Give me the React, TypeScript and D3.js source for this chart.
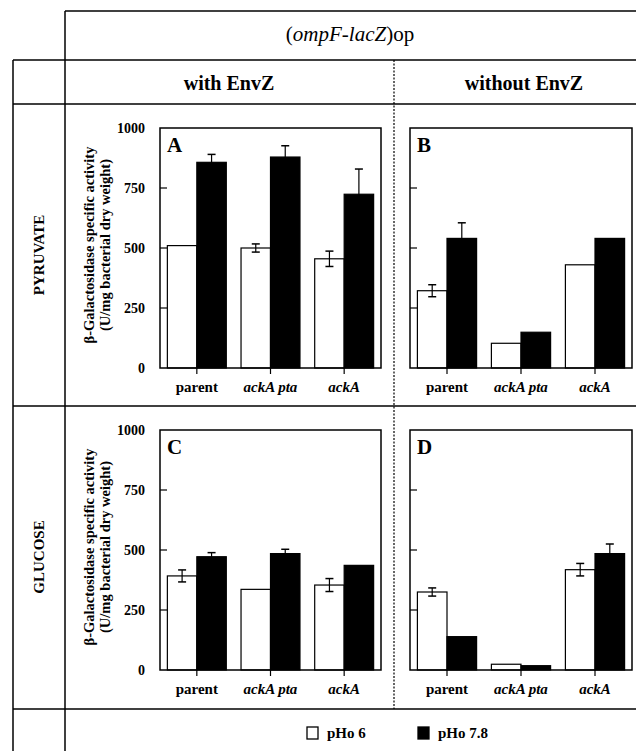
import { useEffect, useRef } from 'react';
import * as d3 from 'd3';

// strains on the x axis
const strains = ["parent", "ackA pta", "ackA"];
const yTicks = [0, 250, 500, 750, 1000];

// pyruvate, with EnvZ (panel A)
const pyrWith_pH6 = [510, 500, 455];
const pyrWith_pH6_err = [0, 17, 32];
const pyrWith_pH78 = [857, 879, 724];
const pyrWith_pH78_err = [33, 47, 105];

// pyruvate, without EnvZ (panel B)
const pyrWithout_pH6 = [322, 103, 430];
const pyrWithout_pH6_err = [25, 0, 0];
const pyrWithout_pH78 = [540, 149, 540];
const pyrWithout_pH78_err = [65, 0, 0];

// glucose, with EnvZ (panel C)
const gluWith_pH6 = [392, 336, 354];
const gluWith_pH6_err = [25, 0, 27];
const gluWith_pH78 = [472, 485, 436];
const gluWith_pH78_err = [17, 18, 0];

// glucose, without EnvZ (panel D)
const gluWithout_pH6 = [325, 24, 418];
const gluWithout_pH6_err = [17, 0, 26];
const gluWithout_pH78 = [139, 18, 485];
const gluWithout_pH78_err = [0, 0, 40];

const FONT = "Liberation Serif, DejaVu Serif, serif";

export default function App() {
    const ref = useRef(null);

    useEffect(() => {
        const svg = d3.select(ref.current);
        svg.selectAll('*').remove();

        const W = 636, H = 751;
        const line = (x1, y1, x2, y2, dash) => {
            const l = svg.append('line')
                .attr('x1', x1).attr('y1', y1).attr('x2', x2).attr('y2', y2)
                .attr('stroke', 'black').attr('stroke-width', 1.5);
            if (dash) l.attr('stroke-dasharray', dash).attr('stroke-width', 1.2);
        };

        // table grid
        line(65, 11, W, 11);
        line(65, 11, 65, H);
        line(13, 60, 13, H);
        line(13, 60, W, 60);
        line(13, 104, W, 104);
        line(13, 406, W, 406);
        line(13, 709, W, 709);
        line(394, 60, 394, 709, '2,1.5');

        const txt = (sel, size, bold) => sel
            .attr('font-family', FONT)
            .attr('font-size', size)
            .attr('font-weight', bold ? 'bold' : 'normal');

        // header text
        const header = txt(svg.append('text'), 21, false)
            .attr('x', 350).attr('y', 41)
            .attr('text-anchor', 'middle');
        header.append('tspan').text('(');
        header.append('tspan').attr('font-style', 'italic').text('ompF-lacZ');
        header.append('tspan').text(')op');

        txt(svg.append('text'), 20, true).attr('x', 229).attr('y', 90)
            .attr('text-anchor', 'middle')
            .text('with EnvZ');
        txt(svg.append('text'), 20, true).attr('x', 524).attr('y', 90)
            .attr('text-anchor', 'middle')
            .text('without EnvZ');

        // row labels
        [['PYRUVATE', 255], ['GLUCOSE', 557]].forEach(([t, cy]) => {
            txt(svg.append('text'), 15, true)
                .attr('transform', `translate(39,${cy}) rotate(-90)`)
                .attr('text-anchor', 'middle').attr('dominant-baseline', 'central')
                .text(t);
        });

        const panels = [
            { letter: 'A', x0: 160, x1: 381, y0: 128, y1: 368, w: pyrWith_pH6, we: pyrWith_pH6_err, b: pyrWith_pH78, be: pyrWith_pH78_err, labels: true },
            { letter: 'B', x0: 410, x1: 632, y0: 128, y1: 368, w: pyrWithout_pH6, we: pyrWithout_pH6_err, b: pyrWithout_pH78, be: pyrWithout_pH78_err, labels: false },
            { letter: 'C', x0: 160, x1: 381, y0: 430, y1: 670, w: gluWith_pH6, we: gluWith_pH6_err, b: gluWith_pH78, be: gluWith_pH78_err, labels: true },
            { letter: 'D', x0: 410, x1: 632, y0: 430, y1: 670, w: gluWithout_pH6, we: gluWithout_pH6_err, b: gluWithout_pH78, be: gluWithout_pH78_err, labels: false },
        ];

        panels.forEach(p => {
            const g = svg.append('g');
            const x = d3.scaleBand().domain(strains).range([p.x0, p.x1]).paddingInner(0.2).paddingOuter(0.1);
            const y = d3.scaleLinear().domain([0, 1000]).range([p.y1, p.y0]);
            const bw = x.bandwidth() / 2;

            const series = [
                { vals: p.w, errs: p.we, fill: 'white', off: 0 },
                { vals: p.b, errs: p.be, fill: 'black', off: bw },
            ];

            series.forEach(s => {
                g.selectAll(null)
                    .data(strains)
                    .join('rect')
                    .attr('x', d => x(d) + s.off)
                    .attr('y', (d, i) => y(s.vals[i]))
                    .attr('width', bw)
                    .attr('height', (d, i) => y(0) - y(s.vals[i]))
                    .attr('fill', s.fill)
                    .attr('stroke', 'black')
                    .attr('stroke-width', 1.2);

                strains.forEach((d, i) => {
                    const e = s.errs[i];
                    if (!e) return;
                    const cx = x(d) + s.off + bw / 2;
                    const top = y(s.vals[i] + e);
                    const bot = y(s.vals[i] - e);
                    g.append('line').attr('x1', cx).attr('x2', cx).attr('y1', top).attr('y2', bot)
                        .attr('stroke', 'black').attr('stroke-width', 1.2);
                    [top, bot].forEach(yy => {
                        g.append('line').attr('x1', cx - 4).attr('x2', cx + 4).attr('y1', yy).attr('y2', yy)
                            .attr('stroke', 'black').attr('stroke-width', 1.5);
                    });
                });
            });

            // frame
            g.append('rect')
                .attr('x', p.x0).attr('y', p.y0)
                .attr('width', p.x1 - p.x0).attr('height', p.y1 - p.y0)
                .attr('fill', 'none').attr('stroke', 'black').attr('stroke-width', 1.5);

            // inner y ticks
            g.selectAll(null).data(yTicks.slice(1, -1)).join('line')
                .attr('x1', p.x0).attr('x2', p.x0 + 7)
                .attr('y1', d => y(d)).attr('y2', d => y(d))
                .attr('stroke', 'black').attr('stroke-width', 1.2);

            if (p.labels) {
                txt(g.selectAll(null).data(yTicks).join('text'), 14, true)
                    .attr('x', p.x0 - 15).attr('y', d => y(d))
                    .attr('text-anchor', 'end').attr('dominant-baseline', 'central')
                    .text(d => d);

                const cy = (p.y0 + p.y1) / 2 - 3;
                const title = ['β-Galactosidase specific activity', '(U/mg bacterial dry weight)'];
                title.forEach((t, i) => {
                    txt(g.append('text'), 14.5, true)
                        .attr('transform', `translate(${89 + i * 16},${cy}) rotate(-90)`)
                        .attr('text-anchor', 'middle').attr('dominant-baseline', 'central')
                        .text(t);
                });
            }

            // x ticks and strain labels
            g.selectAll(null).data(strains).join('line')
                .attr('x1', d => x(d) + bw).attr('x2', d => x(d) + bw)
                .attr('y1', p.y1).attr('y2', p.y1 + 6)
                .attr('stroke', 'black').attr('stroke-width', 1.2);

            txt(g.selectAll(null).data(strains).join('text'), 15, true)
                .attr('x', d => x(d) + bw).attr('y', p.y1 + 24)
                .attr('text-anchor', 'middle')
                .attr('font-style', d => d === 'parent' ? 'normal' : 'italic')
                .text(d => d);

            // panel letter
            txt(g.append('text'), 21, true)
                .attr('x', p.x0 + 7).attr('y', p.y0 + 24)
                .text(p.letter);
        });

        // legend
        const legend = [
            { label: 'pHo 6', fill: 'white', x: 307 },
            { label: 'pHo 7.8', fill: 'black', x: 418 },
        ];
        legend.forEach(l => {
            svg.append('rect').attr('x', l.x).attr('y', 727).attr('width', 11).attr('height', 12)
                .attr('fill', l.fill).attr('stroke', 'black').attr('stroke-width', 1.3);
            txt(svg.append('text'), 15, true).attr('x', l.x + 20).attr('y', 738)
                .text(l.label);
        });
    }, []);

    return (
        <svg ref={ref} width={636} height={751}
            style={{ position: 'absolute', left: 0, top: 0, background: 'white' }} />
    );
}
